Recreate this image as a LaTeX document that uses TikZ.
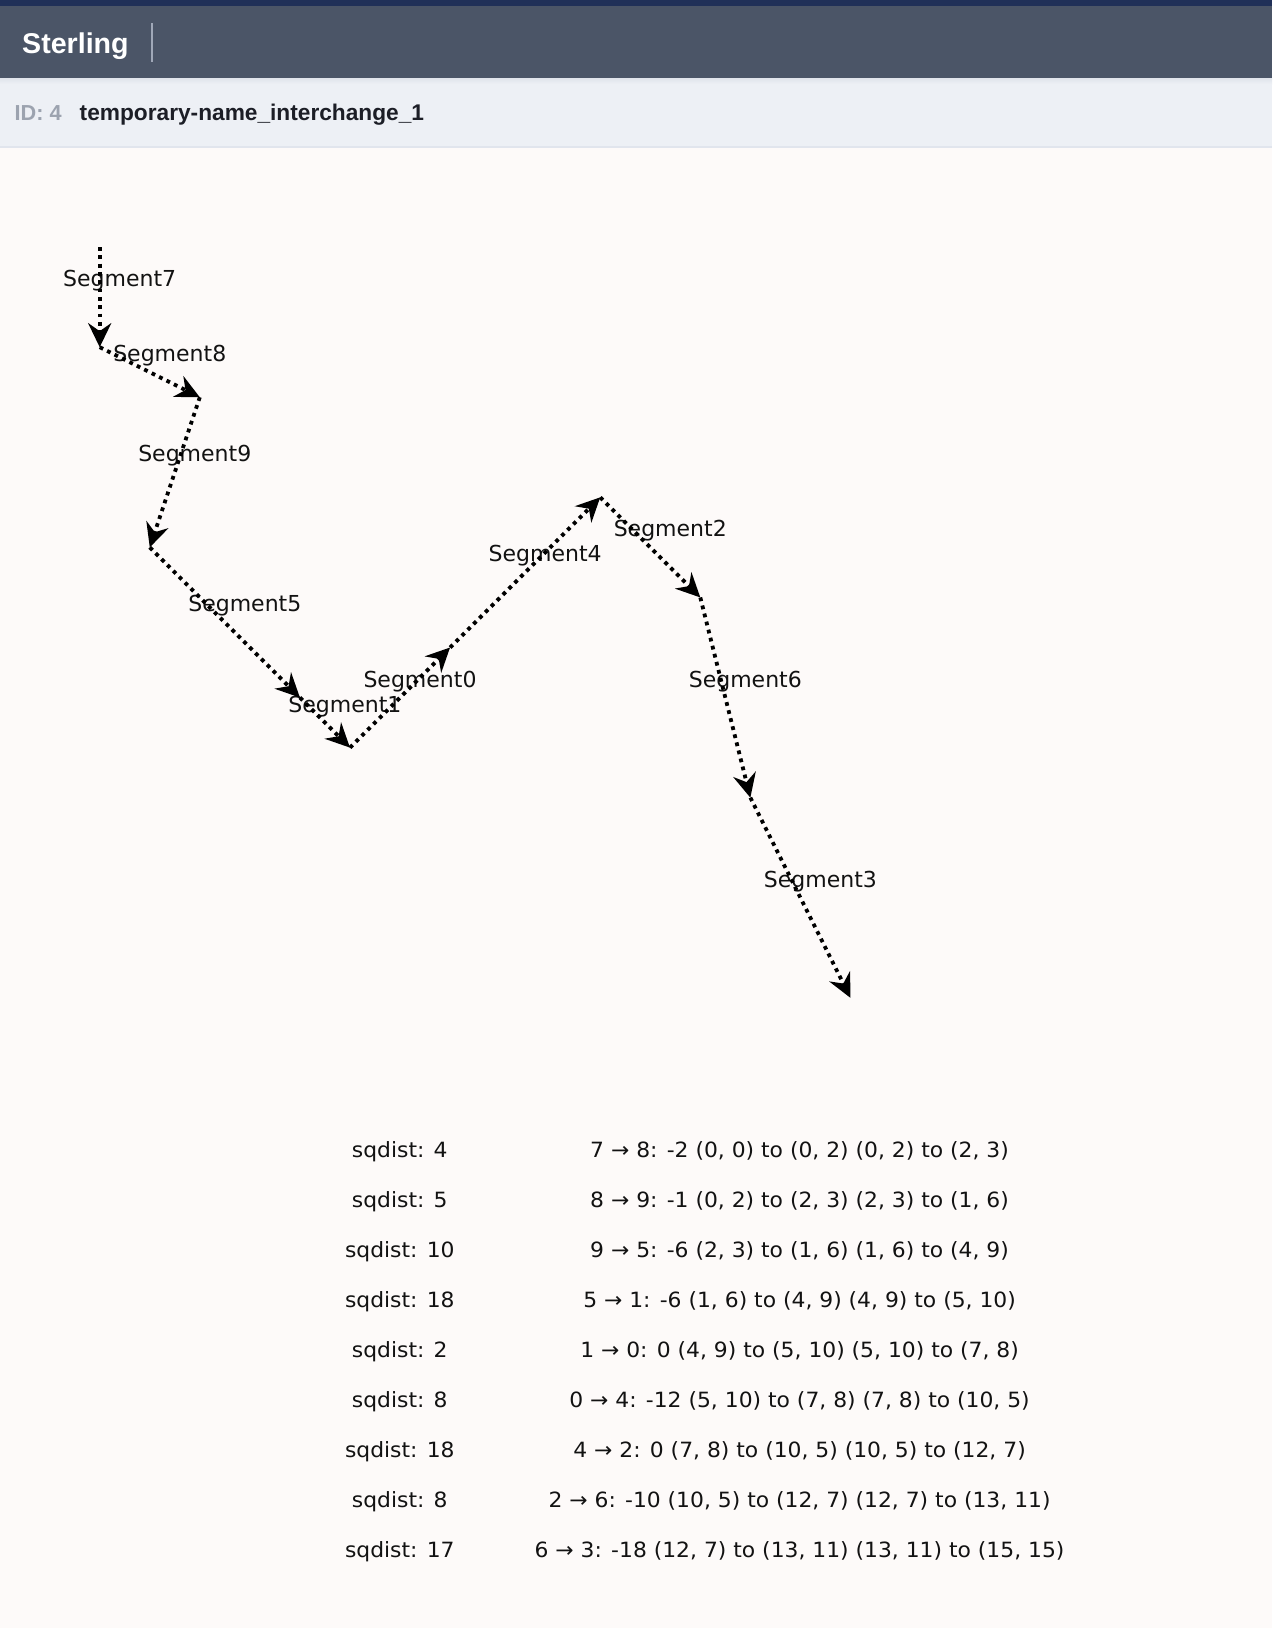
\documentclass[tikz,border=0pt]{standalone}
\usepackage{fontspec}
\setmainfont{DejaVu Sans}
\newfontfamily\hdrfont{Liberation Sans}
\newfontfamily\tabfont[FakeStretch=1.04]{DejaVu Sans}
\usetikzlibrary{arrows.meta,calc}
\definecolor{navy}{RGB}{32,48,88}
\definecolor{grayband}{RGB}{75,85,103}
\definecolor{lightband}{RGB}{237,240,245}
\definecolor{shadowc}{RGB}{224,228,235}
\definecolor{borderc}{RGB}{225,229,237}
\definecolor{bgc}{RGB}{253,250,249}
\definecolor{idgray}{RGB}{156,163,175}
\definecolor{titlec}{RGB}{28,30,38}
\definecolor{barc}{RGB}{160,168,184}
\definecolor{inkc}{RGB}{18,18,18}
\begin{document}
\begin{tikzpicture}[x=1pt,y=-1pt,
  seglabel/.style={font=\fontsize{22}{26}\selectfont, text=inkc, inner sep=0pt, anchor=base},
  segline/.style={draw=black, line width=3.8pt, dash pattern=on 3.8pt off 4.5pt,
     -{Stealth[length=24pt,width=23pt,inset=8pt]}},
  rowtext/.style={font=\tabfont\fontsize{21}{25}\selectfont, text=inkc, inner sep=0pt, anchor=base}]
\useasboundingbox (0,0) rectangle (1272,1628);
% background and header
\fill[bgc] (0,0) rectangle (1272,1628);
\fill[lightband] (0,78) rectangle (1272,146);
\shade[top color=shadowc, bottom color=lightband] (0,78) rectangle (1272,84);
\fill[borderc] (0,146) rectangle (1272,148);
\fill[grayband] (0,0) rectangle (1272,78);
\fill[navy] (0,0) rectangle (1272,6);
\node[font=\hdrfont\bfseries\fontsize{28.6}{32}\selectfont, text=white, inner sep=0pt, anchor=base west] (brand) at (22,53) {Sterling};
\draw[barc, line width=2pt] (152,23) -- (152,62);
\node[font=\hdrfont\bfseries\fontsize{21.7}{26}\selectfont, text=idgray, inner sep=0pt, anchor=base west] (idlab) at (14.5,120) {ID: 4};
\node[font=\hdrfont\bfseries\fontsize{22.7}{26}\selectfont, text=titlec, inner sep=0pt, anchor=base west] (title) at (79.5,120) {temporary-name\_interchange\_1};
% data points
\begin{scope}[shift={(99.7,247.1)}, x=50.05pt, y=-50.05pt]
\coordinate (q00) at (0,0);
\coordinate (q02) at (0,2);
\coordinate (q23) at (2,3);
\coordinate (q16) at (1,6);
\coordinate (q49) at (4,9);
\coordinate (q510) at (5,10);
\coordinate (q78) at (7,8);
\coordinate (q105) at (10,5);
\coordinate (q127) at (12,7);
\coordinate (q1311) at (13,11);
\coordinate (q1515) at (15,15);
\end{scope}
% labels
\foreach \a/\b/\n in {q00/q02/7, q02/q23/8, q23/q16/9, q16/q49/5, q49/q510/1, q510/q78/0, q78/q105/4, q105/q127/2, q127/q1311/6, q1311/q1515/3}{
  \node[seglabel] (lab\n) at ($(\a)!0.5!(\b)+(20,-10.5)$) {Segment\n};
}
% segments
\foreach \a/\b in {q00/q02, q02/q23, q23/q16, q16/q49, q49/q510, q510/q78, q78/q105, q105/q127, q127/q1311, q1311/q1515}{
  \draw[segline] (\a) -- (\b);
}
% table
\node[rowtext] (s1) at (399.8,1157) {sqdist: 4};
\node[rowtext] (t1) at (799.6,1157) {7 → 8: -2 (0, 0) to (0, 2) (0, 2) to (2, 3)};
\node[rowtext] (s2) at (399.8,1207) {sqdist: 5};
\node[rowtext] (t2) at (799.6,1207) {8 → 9: -1 (0, 2) to (2, 3) (2, 3) to (1, 6)};
\node[rowtext] (s3) at (399.8,1257) {sqdist: 10};
\node[rowtext] (t3) at (799.6,1257) {9 → 5: -6 (2, 3) to (1, 6) (1, 6) to (4, 9)};
\node[rowtext] (s4) at (399.8,1307) {sqdist: 18};
\node[rowtext] (t4) at (799.6,1307) {5 → 1: -6 (1, 6) to (4, 9) (4, 9) to (5, 10)};
\node[rowtext] (s5) at (399.8,1357) {sqdist: 2};
\node[rowtext] (t5) at (799.6,1357) {1 → 0: 0 (4, 9) to (5, 10) (5, 10) to (7, 8)};
\node[rowtext] (s6) at (399.8,1407) {sqdist: 8};
\node[rowtext] (t6) at (799.6,1407) {0 → 4: -12 (5, 10) to (7, 8) (7, 8) to (10, 5)};
\node[rowtext] (s7) at (399.8,1457) {sqdist: 18};
\node[rowtext] (t7) at (799.6,1457) {4 → 2: 0 (7, 8) to (10, 5) (10, 5) to (12, 7)};
\node[rowtext] (s8) at (399.8,1507) {sqdist: 8};
\node[rowtext] (t8) at (799.6,1507) {2 → 6: -10 (10, 5) to (12, 7) (12, 7) to (13, 11)};
\node[rowtext] (s9) at (399.8,1557) {sqdist: 17};
\node[rowtext] (t9) at (799.6,1557) {6 → 3: -18 (12, 7) to (13, 11) (13, 11) to (15, 15)};
\end{tikzpicture}
\end{document}
